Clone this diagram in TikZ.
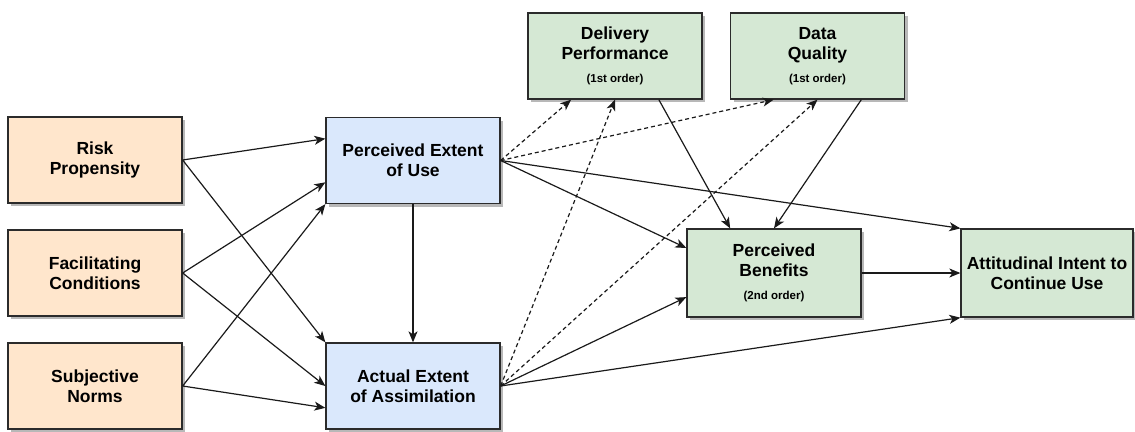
\documentclass[tikz,border=0pt]{standalone}
\usepackage{fontspec}
\setmainfont{Liberation Sans}
\usetikzlibrary{arrows.meta,calc,shadows}

\definecolor{orangefill}{HTML}{FFE6CC}
\definecolor{bluefill}{HTML}{DAE8FC}
\definecolor{greenfill}{HTML}{D5E8D4}
\definecolor{edgeline}{HTML}{1A1A1A}
\definecolor{boxline}{HTML}{2B2B2B}

\newcommand{\ordertag}[1]{{\fontsize{11.5}{13}\selectfont #1}}

\begin{document}
\begin{tikzpicture}[x=1pt,y=-1pt,
  box/.style={draw=boxline, line width=1.3pt, minimum width=174pt, minimum height=86pt,
    inner sep=0pt, align=center, text=black,
    font=\fontsize{17.5}{20}\selectfont\bfseries,
    drop shadow={shadow xshift=3pt, shadow yshift=-3pt, fill=black!35, opacity=0.8}},
  antecedent/.style={box, fill=orangefill},
  usage/.style={box, fill=bluefill},
  outcome/.style={box, fill=greenfill},
  arr/.style={draw=edgeline, line width=1.2pt, -{Stealth[length=11pt,width=9pt,inset=3pt]}},
  link/.style={arr, dash pattern=on 4pt off 3pt}
]
\useasboundingbox (0,0) rectangle (1135,431);

% antecedents
\node[antecedent] (risk) at (95,160) {Risk\\Propensity};
\node[antecedent] (fac)  at (95,273) {Facilitating\\Conditions};
\node[antecedent] (subj) at (95,386) {Subjective\\Norms};

% usage constructs
\node[usage] (peu) at (413,160.5) {Perceived Extent\\of Use};
\node[usage] (act) at (413,386) {Actual Extent\\of Assimilation};

% first-order benefits
\node[outcome] (del) at (615,56) {Delivery\\Performance\\[3pt]\ordertag{(1st order)}};
\node[outcome] (dq)  at (817.5,56) {Data\\Quality\\[3pt]\ordertag{(1st order)}};

% second-order benefits and outcome
\node[outcome, minimum height=88pt] (pb) at (774,273) {Perceived\\Benefits\\[3pt]\ordertag{(2nd order)}};
\node[outcome, minimum width=172pt, minimum height=88pt] (att) at (1047,273) {Attitudinal Intent to\\Continue Use};

% antecedents to usage
\draw[arr] (risk.east) -- ($(peu.north west)!0.25!(peu.south west)$);
\draw[arr] (risk.east) -- (act.north west);
\draw[arr] (fac.east) -- ($(peu.north west)!0.75!(peu.south west)$);
\draw[arr] (fac.east) -- (act.west);
\draw[arr] (subj.east) -- (peu.south west);
\draw[arr] (subj.east) -- ($(act.north west)!0.75!(act.south west)$);
\draw[arr] (peu.south) -- (act.north);

% perceived use to benefits and intent
\draw[link] (peu.east) -- ($(del.south west)!0.25!(del.south east)$);
\draw[link] (peu.east) -- ($(dq.south west)!0.25!(dq.south east)$);
\draw[arr] (peu.east) -- ($(pb.north west)!0.22!(pb.south west)$);
\draw[arr] (peu.east) -- (att.north west);

% actual use to benefits and intent
\draw[link] (act.east) -- (del.south);
\draw[link] (act.east) -- (dq.south);
\draw[arr] (act.east) -- ($(pb.north west)!0.77!(pb.south west)$);
\draw[arr] (act.east) -- (att.south west);

% first-order into second-order benefits
\draw[arr] ($(del.south west)!0.75!(del.south east)$) -- ($(pb.north west)!0.25!(pb.north east)$);
\draw[arr] ($(dq.south west)!0.75!(dq.south east)$) -- (pb.north);
\draw[arr] (pb.east) -- (att.west);
\end{tikzpicture}
\end{document}
